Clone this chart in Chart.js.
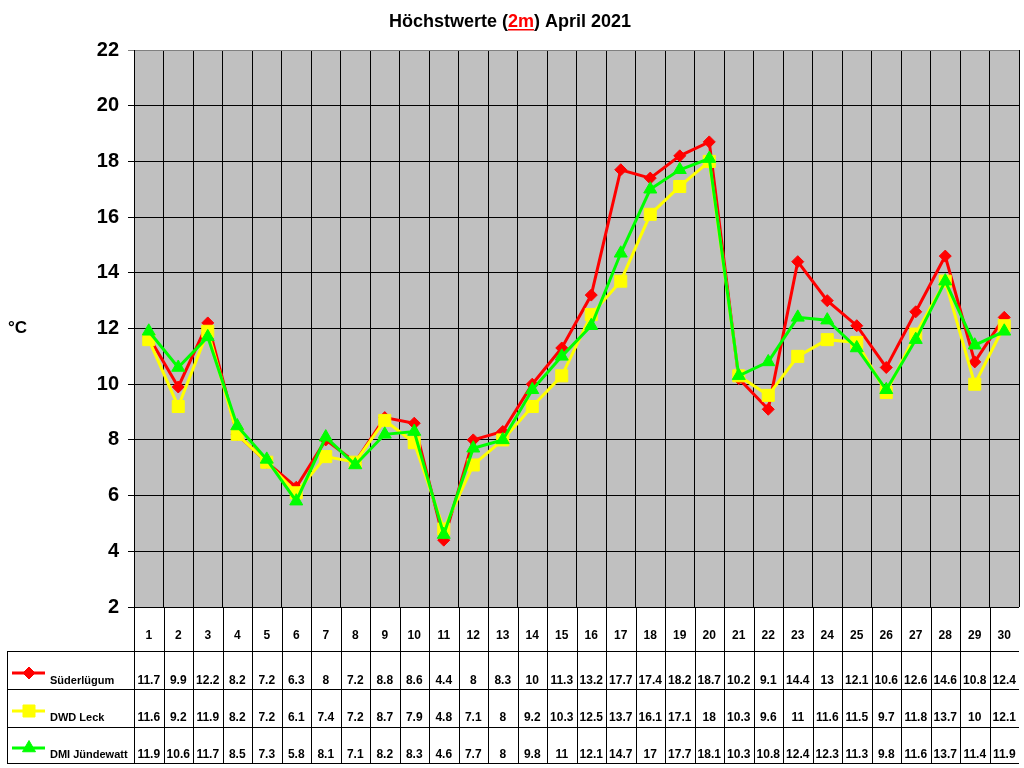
<!DOCTYPE html>
<html><head><meta charset="utf-8">
<script src="https://cdn.jsdelivr.net/npm/chart.js@4/dist/chart.umd.min.js"></script>
<style>html,body{margin:0;padding:0;background:#fff}#wrap{width:1024px;height:768px;position:relative}</style>
</head><body><div id="wrap"><canvas id="c" width="1024" height="768"></canvas></div>
<script>
const days = ['1','2','3','4','5','6','7','8','9','10','11','12','13','14','15','16','17','18','19','20','21','22','23','24','25','26','27','28','29','30'];
const suederluegum = [11.7,9.9,12.2,8.2,7.2,6.3,8,7.2,8.8,8.6,4.4,8,8.3,10,11.3,13.2,17.7,17.4,18.2,18.7,10.2,9.1,14.4,13,12.1,10.6,12.6,14.6,10.8,12.4];
const dwdLeck = [11.6,9.2,11.9,8.2,7.2,6.1,7.4,7.2,8.7,7.9,4.8,7.1,8,9.2,10.3,12.5,13.7,16.1,17.1,18,10.3,9.6,11,11.6,11.5,9.7,11.8,13.7,10,12.1];
const dmiJuendewatt = [11.9,10.6,11.7,8.5,7.3,5.8,8.1,7.1,8.2,8.3,4.6,7.7,8,9.8,11,12.1,14.7,17,17.7,18.1,10.3,10.8,12.4,12.3,11.3,9.8,11.6,13.7,11.4,11.9];
const seriesNames = ['Süderlügum','DWD Leck','DMI Jündewatt'];
const yTicks = [2,4,6,8,10,12,14,16,18,20,22];

const FONT = '"Liberation Sans", Arial, sans-serif';
const colors = ['#FF0000','#FFFF00','#00FF00'];
const styles = ['rectRot','rect','triangle'];
const radii = [6,8.5,7.5];
const seriesData = [suederluegum, dwdLeck, dmiJuendewatt];

const decor = {
  id:'decor',
  beforeDraw(chart){
    const {ctx, chartArea:a} = chart;
    ctx.save();
    ctx.fillStyle = '#C0C0C0';
    ctx.fillRect(a.left, a.top, a.right-a.left, a.bottom-a.top);
    ctx.restore();
  },
  afterDraw(chart){
    const {ctx, chartArea:a} = chart;
    const xs = chart.scales.x;
    ctx.save();
    // Title
    ctx.font = 'bold 18px ' + FONT;
    ctx.textBaseline = 'alphabetic';
    const p1 = 'Höchstwerte (', p2 = '2m', p3 = ') April 2021';
    const w1 = ctx.measureText(p1).width, w2 = ctx.measureText(p2).width, w3 = ctx.measureText(p3).width;
    let tx = 510 - (w1+w2+w3)/2;
    const ty = 27;
    ctx.fillStyle = '#000'; ctx.textAlign='left';
    ctx.fillText(p1, tx, ty);
    ctx.fillStyle = '#FF0000';
    ctx.fillText(p2, tx+w1, ty);
    ctx.fillRect(tx+w1, ty+2, w2, 1.5);
    ctx.fillStyle = '#000';
    ctx.fillText(p3, tx+w1+w2, ty);
    // Y title
    ctx.font = 'bold 17px ' + FONT;
    ctx.textAlign = 'left'; ctx.textBaseline='middle';
    ctx.fillText('°C', 8, 328);

    // Table
    const n = days.length;
    const cw = (a.right - a.left)/n;
    const rowLines = [651, 689, 727, 763];
    ctx.strokeStyle = '#000'; ctx.lineWidth = 1;
    ctx.beginPath();
    for (let i=0;i<n;i++){
      const x = Math.round(a.left + i*cw) + 0.5;
      ctx.moveTo(x, a.bottom); ctx.lineTo(x, rowLines[3]);
    }
    ctx.moveTo(7.5, rowLines[0]); ctx.lineTo(7.5, rowLines[3]);
    rowLines.forEach(y=>{ ctx.moveTo(7, y+0.5); ctx.lineTo(a.right, y+0.5); });
    ctx.stroke();

    ctx.fillStyle = '#000';
    ctx.font = 'bold 12px ' + FONT;
    ctx.textAlign = 'center'; ctx.textBaseline = 'middle';
    for (let i=0;i<n;i++){
      ctx.fillText(days[i], xs.getPixelForValue(i), 636);
    }
    const rowY = [681, 718, 755];
    const swY = [673, 711, 748];
    for (let s=0;s<3;s++){
      ctx.strokeStyle = colors[s]; ctx.lineWidth = 3;
      ctx.beginPath(); ctx.moveTo(12, swY[s]); ctx.lineTo(45, swY[s]); ctx.stroke();
      ctx.fillStyle = colors[s]; ctx.lineWidth = 1;
      Chart.helpers.drawPoint(ctx, {pointStyle: styles[s], radius: radii[s], borderWidth:1, rotation:0}, 29, swY[s]);
      ctx.fillStyle = '#000';
      ctx.textAlign = 'left';
      ctx.font = 'bold 11px ' + FONT;
      ctx.fillText(seriesNames[s], 50, rowY[s]);
      ctx.font = 'bold 12px ' + FONT;
      ctx.textAlign = 'center';
      const d = seriesData[s];
      for (let i=0;i<n;i++){
        ctx.fillText(String(d[i]), xs.getPixelForValue(i), rowY[s]);
      }
    }
    ctx.restore();
  }
};

new Chart(document.getElementById('c'), {
  type:'line',
  data:{
    labels: days,
    datasets: seriesNames.map((name, s)=>({
      label: name,
      data: seriesData[s],
      borderColor: colors[s],
      backgroundColor: colors[s],
      borderWidth: 3,
      pointStyle: styles[s],
      pointRadius: radii[s],
      pointBorderWidth: 1,
      pointBackgroundColor: colors[s],
      pointBorderColor: colors[s],
      tension: 0,
      order: 3 - s
    }))
  },
  options:{
    responsive:false,
    animation:false,
    devicePixelRatio:1,
    layout:{autoPadding:false, padding:{left:0, right:5, top:50, bottom:0}},
    plugins:{legend:{display:false}, title:{display:false}, tooltip:{enabled:false}},
    scales:{
      x:{
        offset:true,
        grid:{offset:true, color:'#000', lineWidth:1, drawTicks:false},
        border:{display:false},
        ticks:{display:false},
        afterFit(scale){ scale.height = 161; }
      },
      y:{
        min:2, max:22,
        ticks:{stepSize:2, color:'#000', font:{family:FONT, size:20, weight:'bold'}, padding:9},
        grid:{color:(c)=> c.tick && c.tick.value===22 ? '#808080' : '#000', lineWidth:1, tickLength:6},
        border:{color:'#000', width:1},
        afterFit(scale){ scale.width = 134; }
      }
    }
  },
  plugins:[decor]
});
</script>
</body></html>
